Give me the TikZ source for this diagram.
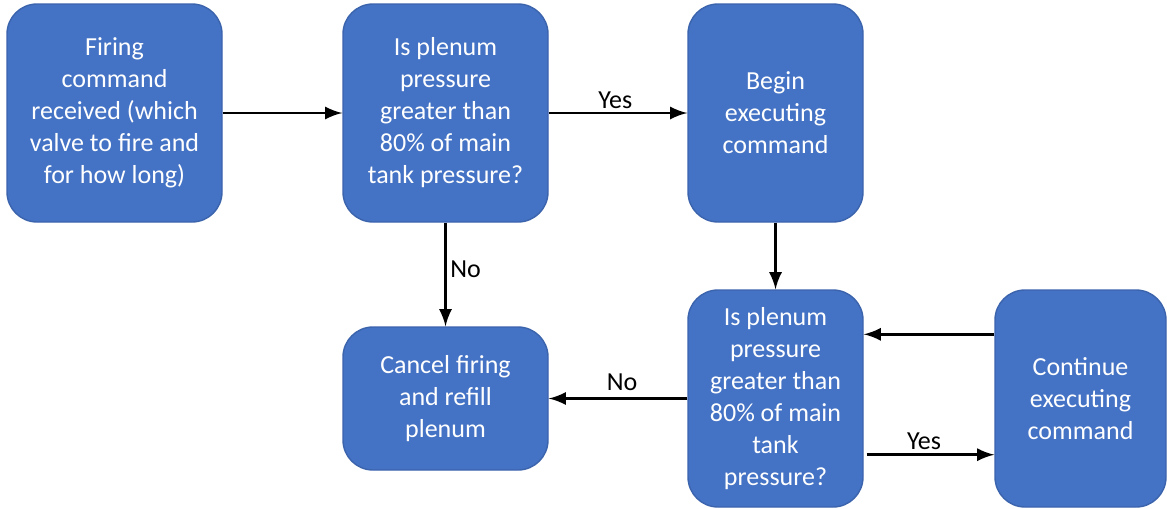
\documentclass[tikz,border=0pt]{standalone}
\usepackage{fontspec}
\setmainfont{Carlito}
\definecolor{boxblue}{HTML}{4472C4}
\definecolor{boxedge}{HTML}{3B64AD}
\tikzset{
  procbox/.style={draw=boxedge,line width=0.4pt,fill=boxblue,rounded corners=0.3cm,
    text=white,align=center,inner sep=0pt,font=\fontsize{7.4}{9.1}\selectfont},
  lbl/.style={font=\fontsize{7.4}{9.1}\selectfont,inner sep=1pt},
  flow/.style={-latex,line width=0.7pt}
}
\begin{document}
\begin{tikzpicture}
\useasboundingbox (0,0) rectangle (11.67,-5.08);
\node[procbox,minimum width=2.15cm,minimum height=2.18cm] (fire) at (1.145,-1.13) {Firing\\command\\received (which\\valve to fire and\\for how long)};
\node[procbox,minimum width=2.05cm,minimum height=2.18cm] (check1) at (4.455,-1.13) {Is plenum\\pressure\\greater than\\80\% of main\\tank pressure?};
\node[procbox,minimum width=1.75cm,minimum height=2.18cm] (begin) at (7.755,-1.13) {Begin\\executing\\command};
\node[procbox,minimum width=2.05cm,minimum height=1.43cm] (cancel) at (4.455,-3.985) {Cancel firing\\and refill\\plenum};
\node[procbox,minimum width=1.75cm,minimum height=2.17cm] (check2) at (7.755,-3.985) {Is plenum\\pressure\\greater than\\80\% of main\\tank\\pressure?};
\node[procbox,minimum width=1.71cm,minimum height=2.17cm] (cont) at (10.805,-3.985) {Continue\\executing\\command};
% connectors
\draw[flow] (fire.east) -- (check1.west);
\draw[flow] (check1.east) -- node[lbl,above,pos=0.48]{Yes} (begin.west);
\draw[flow] (check1.south) -- node[lbl,right,pos=0.45]{No} (cancel.north);
\draw[flow] (begin.south) -- (check2.north);
\draw[flow] (check2.west) -- node[lbl,above,pos=0.47,inner sep=2pt]{No} (cancel.east);
\draw[flow] ([yshift=-0.45cm]cont.north west) -- ([yshift=-0.45cm]check2.north east);
\draw[flow] ([xshift=0.03cm,yshift=0.53cm]check2.south east) -- node[lbl,above,pos=0.45]{Yes} ([yshift=0.53cm]cont.south west);
\end{tikzpicture}
\end{document}
